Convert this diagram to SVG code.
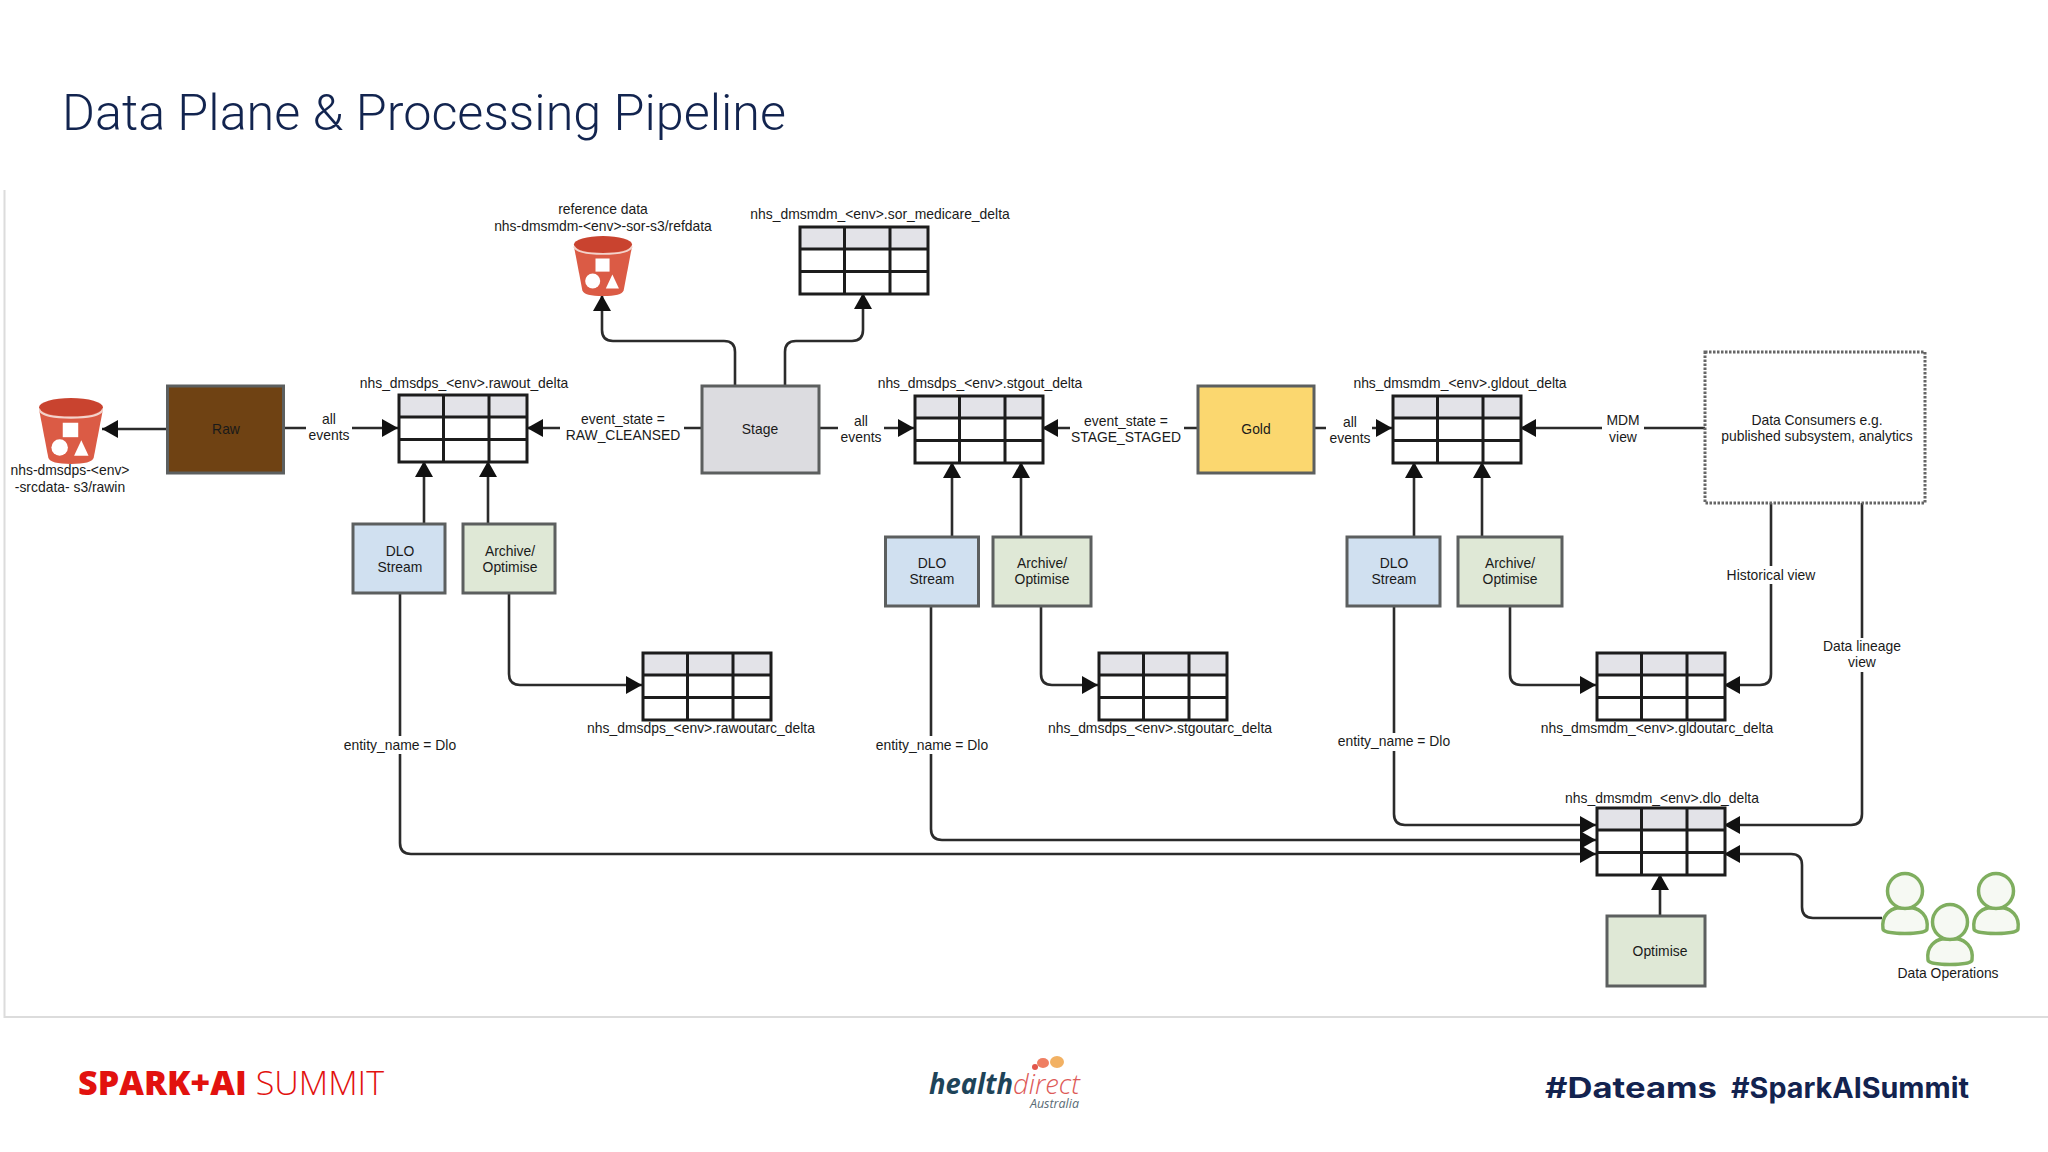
<svg xmlns="http://www.w3.org/2000/svg" width="2048" height="1152" viewBox="0 0 2048 1152">
<style>
text{font-family:"Liberation Sans",Arial,sans-serif;font-size:13.900px;fill:#1a1a1a;text-anchor:middle}
.box{stroke:#5c5f5f;stroke-width:3}
.c{fill:none;stroke:#2b2b2b;stroke-width:2.600;marker-end:url(#a)}
.bg{fill:#fff}
.p{fill:#f6f9f3;stroke:#7fae5f;stroke-width:3.500}
</style>
<defs>
<marker id="a" markerUnits="userSpaceOnUse" markerWidth="18" markerHeight="22" refX="16" refY="10" orient="auto"><path d="M0 1L16 10L0 19Z" fill="#111"/></marker>
<symbol id="tbl" width="130" height="69" viewBox="-1 -1 130 69" overflow="visible">
<rect width="128" height="22" fill="#e3e3e8"/><rect y="22" width="128" height="45" fill="#fff"/>
<path d="M0 0H128V67H0ZM0 22H128M0 44.500H128M44.500 0V67M90 0V67" fill="none" stroke="#1c1c1c" stroke-width="3"/>
</symbol>
<symbol id="bkt" viewBox="0 0 62 64">
<path d="M0 11L9 58Q11 64 31 64Q51 64 53 58L62 11Z" fill="#db5b45"/>
<ellipse cx="31" cy="9" rx="31" ry="9" fill="#c9432f"/>
<path d="M0 11Q3 19 31 19Q59 19 62 11" fill="none" stroke="#f3d3cb" stroke-width="2"/>
<rect x="23" y="24" width="15" height="14" fill="#fff"/><circle cx="20" cy="48" r="8" fill="#fff"/><path d="M34 56L41 41L48 56Z" fill="#fff"/>
</symbol>
<g id="person"><path class="p" d="M-22 38C-24 24-14 18-8 17H8C14 18 24 24 22 38C22 44-22 44-22 38Z"/><ellipse class="p" cx="0" cy="0" rx="17.500" ry="17.500"/></g>
</defs>
<rect width="2048" height="1152" fill="#fff"/>
<path d="M4.500 190V1017H2048" fill="none" stroke="#dcdcdc" stroke-width="2"/>
<text id="title" x="62" y="130" style="font-family:Roboto,sans-serif;font-size:50px;font-weight:300;fill:#12244f;text-anchor:start" textLength="724" lengthAdjust="spacingAndGlyphs">Data Plane &amp; Processing Pipeline</text>

<g id="connectors">
<path class="c" d="M167 429H102"/>
<path class="c" d="M284 428H398"/>
<path class="c" d="M701 428H527"/>
<path class="c" d="M735 385V352Q735 341 724 341H613Q602 341 602 330V295"/>
<path class="c" d="M785 385V352Q785 341 796 341H852Q863 341 863 330V293"/>
<path class="c" d="M819 428H914"/>
<path class="c" d="M1198 428H1042"/>
<path class="c" d="M1314 428H1392"/>
<path class="c" d="M1705 428H1520"/>
<path class="c" d="M424 524V461"/>
<path class="c" d="M488 524V461"/>
<path class="c" d="M952 537V462"/>
<path class="c" d="M1021 537V462"/>
<path class="c" d="M1414 537V462"/>
<path class="c" d="M1482 537V462"/>
<path class="c" d="M400 593V843Q400 854 411 854H1596"/>
<path class="c" d="M931 606V829Q931 840 942 840H1596"/>
<path class="c" d="M1394 606V814Q1394 825 1405 825H1596"/>
<path class="c" d="M509 593V674Q509 685 520 685H642"/>
<path class="c" d="M1041 606V674Q1041 685 1052 685H1098"/>
<path class="c" d="M1510 606V674Q1510 685 1521 685H1596"/>
<path class="c" d="M1771 503V674Q1771 685 1760 685H1724"/>
<path class="c" d="M1862 503V814Q1862 825 1851 825H1724"/>
<path class="c" d="M1882 918H1813Q1802 918 1802 907V865Q1802 854 1791 854H1724"/>
<path class="c" d="M1660 916V874"/>
</g>

<g id="edge-labels">
<rect class="bg" x="306" y="412" width="46" height="32"/><text x="329" y="424">all</text><text x="329" y="440">events</text>
<rect class="bg" x="560" y="412" width="124" height="32"/><text x="623" y="424">event_state =</text><text x="623" y="440">RAW_CLEANSED</text>
<rect class="bg" x="838" y="412" width="46" height="32"/><text x="861" y="426">all</text><text x="861" y="442">events</text>
<rect class="bg" x="1070" y="412" width="114" height="32"/><text x="1126" y="426">event_state =</text><text x="1126" y="442">STAGE_STAGED</text>
<rect class="bg" x="1326" y="412" width="46" height="32"/><text x="1350" y="427">all</text><text x="1350" y="443">events</text>
<rect class="bg" x="1602" y="412" width="42" height="32"/><text x="1623" y="425">MDM</text><text x="1623" y="442">view</text>
<rect class="bg" x="340" y="736" width="120" height="18"/><text x="400" y="750">entity_name = Dlo</text>
<rect class="bg" x="872" y="736" width="120" height="18"/><text x="932" y="750">entity_name = Dlo</text>
<rect class="bg" x="1334" y="733" width="120" height="18"/><text x="1394" y="746">entity_name = Dlo</text>
<rect class="bg" x="1724" y="566" width="94" height="18"/><text x="1771" y="580">Historical view</text>
<rect class="bg" x="1820" y="638" width="84" height="34"/><text x="1862" y="651">Data lineage</text><text x="1862" y="667">view</text>
</g>

<g id="raw"><rect class="box" x="167.500" y="386" width="116" height="87" fill="#6f4213"/><text x="226" y="434">Raw</text></g>
<g id="stage"><rect class="box" x="702" y="386" width="117" height="87" fill="#dcdce0"/><text x="760" y="434">Stage</text></g>
<g id="gold"><rect class="box" x="1198" y="386" width="116" height="87" fill="#fbd76f"/><text x="1256" y="434">Gold</text></g>
<g id="consumers"><rect x="1705" y="352" width="220" height="151" fill="#fff" stroke="#666" stroke-width="3" stroke-dasharray="2.500 1.500"/><text x="1817" y="425">Data Consumers e.g.</text><text x="1817" y="441">published subsystem, analytics</text></g>
<g id="dlo1"><rect class="box" x="353" y="524" width="92" height="69" fill="#d0e0f0"/><text x="400" y="556">DLO</text><text x="400" y="572">Stream</text></g>
<g id="arch1"><rect class="box" x="463" y="524" width="92" height="69" fill="#dfe8d6"/><text x="510" y="556">Archive/</text><text x="510" y="572">Optimise</text></g>
<g id="dlo2"><rect class="box" x="885.500" y="537" width="93" height="69" fill="#d0e0f0"/><text x="932" y="568">DLO</text><text x="932" y="584">Stream</text></g>
<g id="arch2"><rect class="box" x="993" y="537" width="98" height="69" fill="#dfe8d6"/><text x="1042" y="568">Archive/</text><text x="1042" y="584">Optimise</text></g>
<g id="dlo3"><rect class="box" x="1347" y="537" width="93" height="69" fill="#d0e0f0"/><text x="1394" y="568">DLO</text><text x="1394" y="584">Stream</text></g>
<g id="arch3"><rect class="box" x="1458" y="537" width="104" height="69" fill="#dfe8d6"/><text x="1510" y="568">Archive/</text><text x="1510" y="584">Optimise</text></g>
<g id="optimise"><rect class="box" x="1607" y="916" width="98" height="70" fill="#dfe8d6"/><text x="1660" y="956">Optimise</text></g>

<g id="bucket-raw"><use href="#bkt" x="39" y="398" width="64" height="66"/><text x="70" y="475">nhs-dmsdps-&lt;env&gt;</text><text x="70" y="492">-srcdata- s3/rawin</text></g>
<g id="bucket-ref"><use href="#bkt" x="573" y="236" width="60" height="60"/><text x="603" y="214">reference data</text><text x="603" y="231">nhs-dmsmdm-&lt;env&gt;-sor-s3/refdata</text></g>

<g id="tbl-sor"><use href="#tbl" x="799" y="226"/><text x="880" y="219">nhs_dmsmdm_&lt;env&gt;.sor_medicare_delta</text></g>
<g id="tbl-rawout"><use href="#tbl" x="398" y="394"/><text x="464" y="388">nhs_dmsdps_&lt;env&gt;.rawout_delta</text></g>
<g id="tbl-stgout"><use href="#tbl" x="914" y="395"/><text x="980" y="388">nhs_dmsdps_&lt;env&gt;.stgout_delta</text></g>
<g id="tbl-gldout"><use href="#tbl" x="1392" y="395"/><text x="1460" y="388">nhs_dmsmdm_&lt;env&gt;.gldout_delta</text></g>
<g id="tbl-rawoutarc"><use href="#tbl" x="642" y="652"/><text x="701" y="733">nhs_dmsdps_&lt;env&gt;.rawoutarc_delta</text></g>
<g id="tbl-stgoutarc"><use href="#tbl" x="1098" y="652"/><text x="1160" y="733">nhs_dmsdps_&lt;env&gt;.stgoutarc_delta</text></g>
<g id="tbl-gldoutarc"><use href="#tbl" x="1596" y="652"/><text x="1657" y="733">nhs_dmsmdm_&lt;env&gt;.gldoutarc_delta</text></g>
<g id="tbl-dlo"><use href="#tbl" x="1596" y="807"/><text x="1662" y="803">nhs_dmsmdm_&lt;env&gt;.dlo_delta</text></g>

<g id="data-ops"><use href="#person" x="1905" y="891"/><use href="#person" x="1996" y="891"/><use href="#person" x="1950" y="922"/><text x="1948" y="978">Data Operations</text></g>

<g id="footer">
<text x="78" y="1095" style="font-family:'Open Sans',sans-serif;font-size:33px;fill:#e2120f;text-anchor:start" textLength="306" lengthAdjust="spacingAndGlyphs"><tspan font-weight="800">SPARK+AI</tspan><tspan font-weight="300"> SUMMIT</tspan></text>
<g id="healthdirect-logo"><circle cx="1035" cy="1067" r="3" fill="#e2574c"/><ellipse cx="1043" cy="1063" rx="6" ry="5" fill="#ef7f63"/><ellipse cx="1057" cy="1062" rx="7" ry="6" fill="#f2b163"/>
<text x="929" y="1094" style="font-family:'Open Sans',sans-serif;font-size:28px;font-style:italic;fill:#1e4459;text-anchor:start" textLength="151" lengthAdjust="spacingAndGlyphs"><tspan font-weight="700">health</tspan><tspan font-weight="300" fill="#dd5a58">direct</tspan></text>
<text x="1079" y="1108" style="font-family:'Open Sans',sans-serif;font-size:12.500px;font-style:italic;fill:#5a6b75;text-anchor:end">Australia</text></g>
<text x="1545" y="1098" style="font-family:Inter,sans-serif;font-size:28px;font-weight:700;fill:#13234f;text-anchor:start" textLength="172" lengthAdjust="spacingAndGlyphs">#Dateams</text>
<text x="1731" y="1098" style="font-family:Inter,sans-serif;font-size:28px;font-weight:700;fill:#13234f;text-anchor:start" textLength="238" lengthAdjust="spacingAndGlyphs">#SparkAISummit</text>
</g>
</svg>
